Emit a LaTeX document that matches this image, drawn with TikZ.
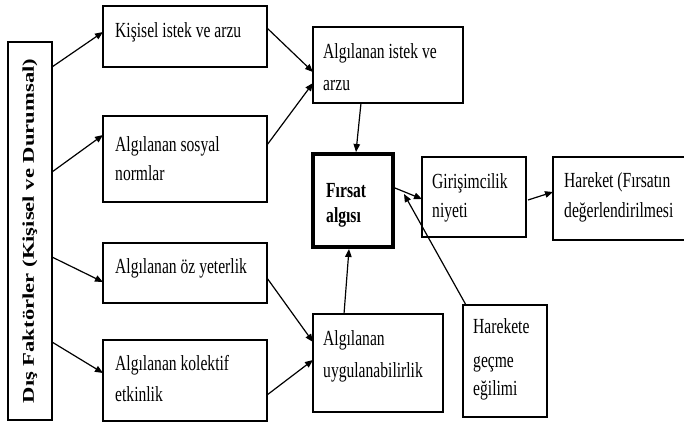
\documentclass[tikz,border=0pt]{standalone}
\usepackage{fontspec}
\setmainfont{Liberation Serif}
\usepackage{graphicx}
\usetikzlibrary{arrows.meta,calc}
\newcommand{\st}[1]{\scalebox{1}[1.38]{#1}}
\begin{document}
\begin{tikzpicture}[x=1pt,y=-1pt,
  box/.style={draw, line width=1.3pt, anchor=north west, inner sep=0pt, outer sep=0pt},
  txt/.style={anchor=base west, inner sep=0pt, font=\fontsize{15.6}{18}\selectfont},
  arr/.style={line width=1.2pt, -{Triangle[length=8pt,width=6.5pt]}}]
\useasboundingbox (0,0) rectangle (684,423);
\fill[white] (0,0) rectangle (684,423);
\begin{scope}
\clip (0,0) rectangle (684,423);
% boxes
\node[box, minimum width=44pt, minimum height=378pt] (L) at (8,42) {};
\node[box, minimum width=164pt, minimum height=61pt] (A) at (103,6) {};
\node[box, minimum width=164pt, minimum height=86pt] (B) at (103,116) {};
\node[box, minimum width=164pt, minimum height=60pt] (C) at (103,243) {};
\node[box, minimum width=164pt, minimum height=81pt] (D) at (103,340) {};
\node[box, minimum width=150pt, minimum height=76pt] (E) at (313,27) {};
\node[box, line width=4.5pt, minimum width=80pt, minimum height=93pt] (F) at (313,154) {};
\node[box, minimum width=104pt, minimum height=80pt] (G) at (422,157) {};
\node[box, minimum width=170pt, minimum height=83pt] (H) at (553,157) {};
\node[box, minimum width=130pt, minimum height=98pt] (I) at (313,314) {};
\node[box, minimum width=84pt, minimum height=112pt] (J) at (463,305) {};
% texts
\node[rotate=90, inner sep=0pt, font=\bfseries\fontsize{16.4}{18}\selectfont] (Lt) at (30,231) {\scalebox{1.38}[1]{Dış Faktörler (Kişisel ve Durumsal)}};
\node[txt] (A1) at (115,37) {\st{Kişisel istek ve arzu}};
\node[txt] (B1) at (115,151) {\st{Algılanan sosyal}};
\node[txt] (B2) at (115,180) {\st{normlar}};
\node[txt] (C1) at (115,273) {\st{Algılanan öz yeterlik}};
\node[txt] (D1) at (115,370) {\st{Algılanan kolektif}};
\node[txt] (D2) at (115,401) {\st{etkinlik}};
\node[txt] (E1) at (323,58) {\st{Algılanan istek ve}};
\node[txt] (E2) at (323,90) {\st{arzu}};
\node[txt, font=\bfseries\fontsize{15.6}{18}\selectfont] (F1) at (326,197) {\st{Fırsat}};
\node[txt, font=\bfseries\fontsize{15.6}{18}\selectfont] (F2) at (326,222) {\st{algısı}};
\node[txt] (G1) at (432,188) {\st{Girişimcilik}};
\node[txt] (G2) at (432,217) {\st{niyeti}};
\node[txt] (H1) at (564,187) {\st{Hareket (Fırsatın}};
\node[txt] (H2) at (564,217) {\st{değerlendirilmesi}};
\node[txt] (I1) at (323,345) {\st{Algılanan}};
\node[txt] (I2) at (323,377) {\st{uygulanabilirlik}};
\node[txt] (J1) at (473,333) {\st{Harekete}};
\node[txt] (J2) at (473,367) {\st{geçme}};
\node[txt] (J3) at (473,395) {\st{eğilimi}};
% connectors
\draw[arr] ($(L.north east)+(0,25)$) -- ($(A.north west)+(0,26)$);
\draw[arr] ($(L.north east)+(0,130)$) -- ($(B.north west)+(0,19)$);
\draw[arr] ($(L.north east)+(0,215)$) -- ($(C.north west)+(0,39)$);
\draw[arr] ($(L.north east)+(0,300)$) -- ($(D.north west)+(0,33)$);
\draw[arr] ($(A.north east)+(0,22)$) -- ($(E.north west)+(0,45)$);
\draw[arr] ($(B.north east)+(0,29)$) -- ($(E.north west)+(0,56)$);
\draw[arr] ($(C.north east)+(0,35)$) -- ($(I.north west)+(0,28)$);
\draw[arr] ($(D.north east)+(0,55)$) -- ($(I.north west)+(0,46)$);
\draw[arr] ($(E.south west)+(48,0)$) -- ($(F.north west)+(43,-2)$);
\draw[arr] ($(I.north west)+(31,0)$) -- ($(F.south west)+(36,2)$);
\draw[arr] ($(F.north east)+(2,34)$) -- ($(G.north west)+(0,42)$);
\draw[arr] ($(G.north east)+(2,43)$) -- ($(H.north west)+(0,35)$);
\coordinate (m) at ($(F.north east)+(11,40)$);
\draw[arr] ($(J.north west)+(3,0)$) -- (m);
\end{scope}
\end{tikzpicture}
\end{document}
